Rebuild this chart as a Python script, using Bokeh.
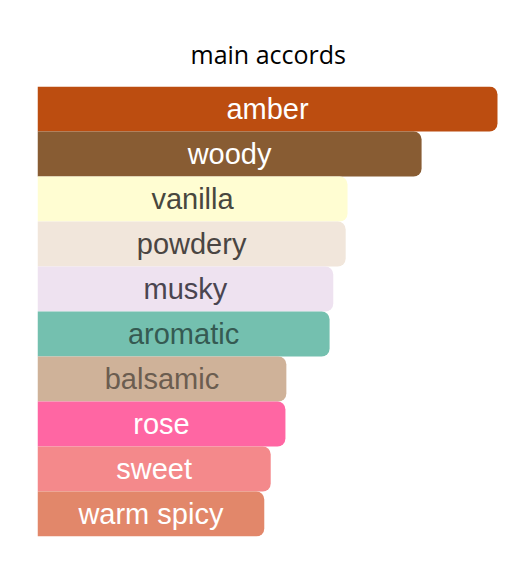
from bokeh.plotting import figure
from bokeh.models import ColumnDataSource, Range1d, FactorRange
from bokeh.embed import file_html
from bokeh.resources import INLINE
from bokeh.core.properties import value

accords = ["amber", "woody", "vanilla", "powdery", "musky", "aromatic",
           "balsamic", "rose", "sweet", "warm spicy"]
strength = [100, 83.5, 67.4, 67.0, 64.3, 63.5, 54.1, 53.9, 50.7, 49.3]
bar_colors = ["#BC4D10", "#885C33", "#FFFDD2", "#F1E6DB", "#EEE2F0", "#74C0AF",
              "#CFB299", "#FF66A3", "#F4898B", "#E2876A"]
text_colors = ["#FFFFFF", "#FFFFFF", "#48473E", "#4A4542", "#4A4550", "#355A52",
               "#6B5D50", "#FFFFFF", "#FFFFFF", "#FFFFFF"]

src = ColumnDataSource(dict(
    accord=accords,
    strength=strength,
    mid=[s / 2 for s in strength],
    color=bar_colors,
    tcolor=text_colors,
))

W, H = 513, 559
p = figure(width=W, height=H, output_backend="svg", toolbar_location=None,
           y_range=FactorRange(factors=accords[::-1], range_padding=0),
           x_range=Range1d(0, 103.48),
           min_border_left=37, min_border_right=0,
           min_border_top=86, min_border_bottom=23,
           title="main accords")
p.title.align = "left"
p.title.offset = 153
p.title.text_font = "Open Sans"
p.title.text_font_size = "25px"
p.title.text_font_style = "normal"
p.title.text_color = "#000000"
p.title.standoff = 31

p.hbar(y="accord", left=0, right="strength", height=1.0, fill_color="color",
       line_color=None, border_radius=(0, 8, 8, 0), source=src)
p.text(x="mid", y="accord", text="accord", text_color="tcolor",
       text_font=value("Liberation Sans"), text_font_size="29px",
       text_align="center", text_baseline="middle", source=src)

p.axis.visible = False
p.grid.visible = False
p.outline_line_color = None
p.background_fill_color = "white"
p.border_fill_color = "white"

open("out.html", "w").write(file_html(p, INLINE))
